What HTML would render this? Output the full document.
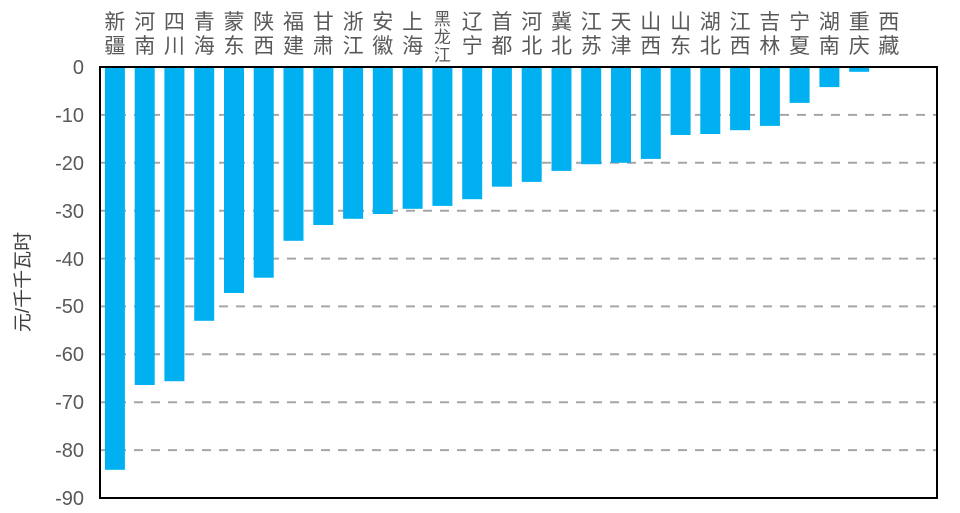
<!DOCTYPE html>
<html><head><meta charset="utf-8"><style>body{margin:0;background:#fff}svg{display:block}</style></head>
<body>
<svg width="960" height="513" xmlns="http://www.w3.org/2000/svg" font-family="Liberation Sans, Noto Sans CJK SC, sans-serif">
<g stroke="#a6a6a6" stroke-width="2" stroke-dasharray="9,8">
<line x1="100" x2="937" y1="114.9" y2="114.9"/><line x1="100" x2="937" y1="162.8" y2="162.8"/>
<line x1="100" x2="937" y1="210.7" y2="210.7"/><line x1="100" x2="937" y1="258.6" y2="258.6"/>
<line x1="100" x2="937" y1="306.4" y2="306.4"/><line x1="100" x2="937" y1="354.3" y2="354.3"/>
<line x1="100" x2="937" y1="402.2" y2="402.2"/><line x1="100" x2="937" y1="450.1" y2="450.1"/>
</g>
<g fill="#00b0f0">
<rect x="104.9" y="67" width="20" height="402.8"/>
<rect x="134.7" y="67" width="20" height="318.0"/>
<rect x="164.4" y="67" width="20" height="314.2"/>
<rect x="194.2" y="67" width="20" height="253.8"/>
<rect x="224.0" y="67" width="20" height="226.0"/>
<rect x="253.7" y="67" width="20" height="210.7"/>
<rect x="283.5" y="67" width="20" height="173.8"/>
<rect x="313.3" y="67" width="20" height="158.0"/>
<rect x="343.1" y="67" width="20" height="151.8"/>
<rect x="372.8" y="67" width="20" height="147.0"/>
<rect x="402.6" y="67" width="20" height="141.8"/>
<rect x="432.4" y="67" width="20" height="138.9"/>
<rect x="462.2" y="67" width="20" height="132.2"/>
<rect x="491.9" y="67" width="20" height="119.7"/>
<rect x="521.7" y="67" width="20" height="114.9"/>
<rect x="551.5" y="67" width="20" height="103.9"/>
<rect x="581.2" y="67" width="20" height="97.2"/>
<rect x="611.0" y="67" width="20" height="95.8"/>
<rect x="640.8" y="67" width="20" height="91.9"/>
<rect x="670.6" y="67" width="20" height="68.0"/>
<rect x="700.3" y="67" width="20" height="67.0"/>
<rect x="730.1" y="67" width="20" height="63.2"/>
<rect x="759.9" y="67" width="20" height="58.9"/>
<rect x="789.6" y="67" width="20" height="35.9"/>
<rect x="819.4" y="67" width="20" height="20.1"/>
<rect x="849.2" y="67" width="20" height="4.8"/>
</g>
<rect x="100" y="67" width="837" height="431" fill="none" stroke="#000" stroke-width="2"/>
<g fill="#595959" font-size="20" text-anchor="end">
<text x="84" y="74">0</text><text x="84" y="122">-10</text><text x="84" y="170">-20</text>
<text x="84" y="218">-30</text><text x="84" y="266">-40</text><text x="84" y="313">-50</text>
<text x="84" y="361">-60</text><text x="84" y="409">-70</text><text x="84" y="457">-80</text>
<text x="84" y="505">-90</text>
</g>
<g fill="#595959" font-size="21" text-anchor="middle">
<text x="114.9" y="29">新</text><text x="114.9" y="53">疆</text>
<text x="144.7" y="29">河</text><text x="144.7" y="53">南</text>
<text x="174.4" y="29">四</text><text x="174.4" y="53">川</text>
<text x="204.2" y="29">青</text><text x="204.2" y="53">海</text>
<text x="234.0" y="29">蒙</text><text x="234.0" y="53">东</text>
<text x="263.7" y="29">陕</text><text x="263.7" y="53">西</text>
<text x="293.5" y="29">福</text><text x="293.5" y="53">建</text>
<text x="323.3" y="29">甘</text><text x="323.3" y="53">肃</text>
<text x="353.1" y="29">浙</text><text x="353.1" y="53">江</text>
<text x="382.8" y="29">安</text><text x="382.8" y="53">徽</text>
<text x="412.6" y="29">上</text><text x="412.6" y="53">海</text>
<text x="442.4" y="25" font-size="17">黑</text><text x="442.4" y="43" font-size="17">龙</text><text x="442.4" y="61" font-size="17">江</text>
<text x="472.2" y="29">辽</text><text x="472.2" y="53">宁</text>
<text x="501.9" y="29">首</text><text x="501.9" y="53">都</text>
<text x="531.7" y="29">河</text><text x="531.7" y="53">北</text>
<text x="561.5" y="29">冀</text><text x="561.5" y="53">北</text>
<text x="591.2" y="29">江</text><text x="591.2" y="53">苏</text>
<text x="621.0" y="29">天</text><text x="621.0" y="53">津</text>
<text x="650.8" y="29">山</text><text x="650.8" y="53">西</text>
<text x="680.6" y="29">山</text><text x="680.6" y="53">东</text>
<text x="710.3" y="29">湖</text><text x="710.3" y="53">北</text>
<text x="740.1" y="29">江</text><text x="740.1" y="53">西</text>
<text x="769.9" y="29">吉</text><text x="769.9" y="53">林</text>
<text x="799.6" y="29">宁</text><text x="799.6" y="53">夏</text>
<text x="829.4" y="29">湖</text><text x="829.4" y="53">南</text>
<text x="859.2" y="29">重</text><text x="859.2" y="53">庆</text>
<text x="888.9" y="29">西</text><text x="888.9" y="53">藏</text>
</g>
<text transform="translate(29,282) rotate(-90)" fill="#404040" font-size="19" text-anchor="middle">元/千千瓦时</text>
</svg>
</body></html>
